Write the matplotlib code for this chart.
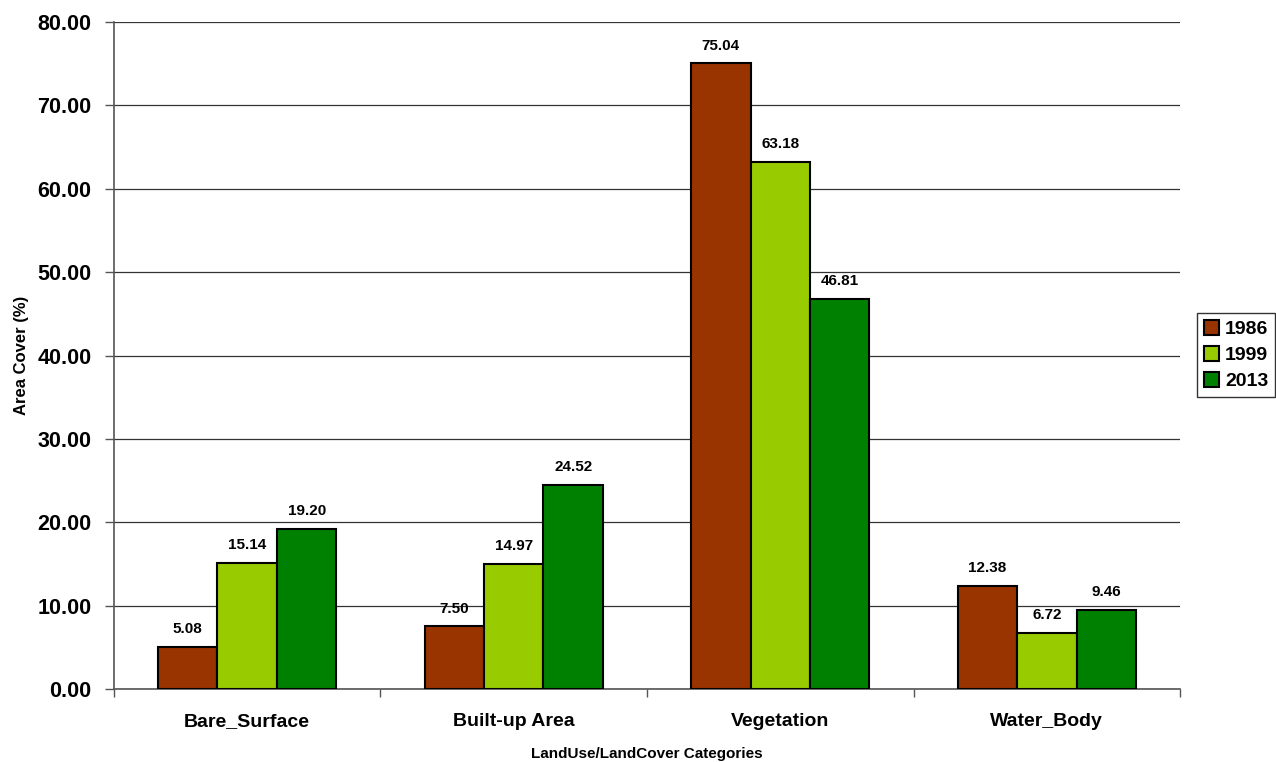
import matplotlib
matplotlib.use("Agg")
import matplotlib.pyplot as plt
import numpy as np

categories = ["Bare_Surface", "Built-up Area", "Vegetation", "Water_Body"]
years = ["1986", "1999", "2013"]
values_1986 = [5.08, 7.50, 75.04, 12.38]
values_1999 = [15.14, 14.97, 63.18, 6.72]
values_2013 = [19.20, 24.52, 46.81, 9.46]
colors = ["#993300", "#99CC00", "#008000"]

plt.rcParams["font.family"] = ["Liberation Sans", "DejaVu Sans"]
plt.rcParams["font.weight"] = "bold"

fig = plt.figure(figsize=(12.76, 7.62), dpi=100)
ax = fig.add_axes([0.0893, 0.0958, 0.8355, 0.8753])

series = [values_1986, values_1999, values_2013]
x = np.arange(len(categories))
width = 0.223
for i, (vals, col, yr) in enumerate(zip(series, colors, years)):
    pos = x + (i - 1) * width
    bars = ax.bar(pos, vals, width, color=col, edgecolor="black", linewidth=1.5,
                  label=yr, zorder=3)
    for b, v in zip(bars, vals):
        ax.text(b.get_x() + b.get_width() / 2, v + 1.3, f"{v:.2f}",
                ha="center", va="bottom", fontsize=11, fontweight="bold")

ax.set_xlim(-0.5, len(categories) - 0.5)
ax.set_ylim(0, 80)
ax.set_yticks(np.arange(0, 81, 10))
ax.set_yticklabels([f"{t:.2f}" for t in np.arange(0, 81, 10)], fontsize=15.5,
                   fontweight="bold")
ax.set_xticks(x)
ax.set_xticklabels(categories, fontsize=14, fontweight="bold")
ax.tick_params(axis="x", length=0, pad=17)
ax.set_xticks(np.arange(-0.5, len(categories)), minor=True)
ax.tick_params(axis="x", which="minor", length=6, width=1, color="#555555", direction="out")
ax.tick_params(axis="y", length=6.5, width=1, color="#555555", direction="out", pad=9.5)

ax.grid(axis="y", color="#333333", linewidth=0.9, zorder=0)
for s in ["top", "right"]:
    ax.spines[s].set_visible(False)
ax.spines["left"].set_color("#555555")
ax.spines["bottom"].set_color("#555555")
ax.spines["left"].set_linewidth(1.2)
ax.spines["bottom"].set_linewidth(1.2)

ax.set_xlabel("LandUse/LandCover Categories", fontsize=11, fontweight="bold", labelpad=12.5)
ax.set_ylabel("Area Cover (%)", fontsize=12, fontweight="bold", labelpad=6)

leg = fig.legend(loc="center left", bbox_to_anchor=(0.938, 0.534), fontsize=14,
                 frameon=True, fancybox=False, edgecolor="black",
                 handlelength=0.8, handleheight=0.8, handletextpad=0.3,
                 labelspacing=0.4, borderpad=0.35, borderaxespad=0)
leg.get_frame().set_linewidth(1.0)
for t in leg.get_texts():
    t.set_fontweight("bold")

fig.savefig("out.png", dpi=100)
